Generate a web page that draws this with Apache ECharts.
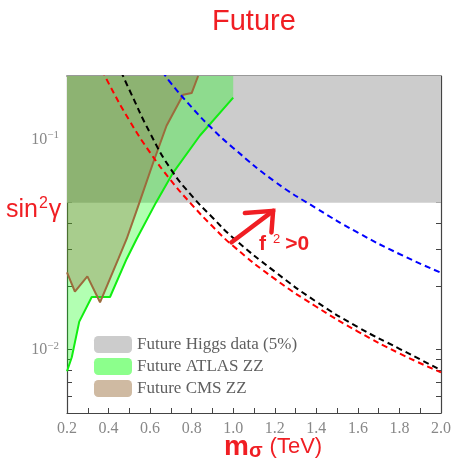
<!DOCTYPE html>
<html>
<head>
<meta charset="utf-8">
<script src="https://cdn.jsdelivr.net/npm/echarts@6/dist/echarts.min.js"></script>
<style>
  html, body { margin: 0; padding: 0; background: #fff; }
  #chart { width: 455px; height: 474px; }
</style>
</head>
<body>
<div id="chart"></div>
<script>
// excluded regions (boundaries)
const higgsX = [0.2, 2.0]
const higgsY = [0.05, 0.05]
const atlasX = [0.2, 0.223, 0.259, 0.319, 0.407, 0.487, 0.535, 0.628, 0.711, 0.839, 1.0]
const atlasY = [0.0079, 0.0092, 0.0136, 0.0178, 0.0178, 0.027, 0.0336, 0.05, 0.0695, 0.104, 0.158]
const cmsX = [0.2, 0.238, 0.298, 0.359, 0.447, 0.487, 0.543, 0.615, 0.679, 0.759, 0.80, 0.831]
const cmsY = [0.0233, 0.0189, 0.0223, 0.0168, 0.027, 0.0336, 0.0483, 0.0776, 0.116, 0.163, 0.166, 0.2]

// dashed curves
const redX = [0.37, 0.4, 0.5, 0.6, 0.7, 0.8, 0.9, 1.0, 1.2, 1.4, 1.6, 1.8, 2.0]
const redY = [0.214, 0.185, 0.123, 0.0865, 0.0638, 0.049, 0.0386, 0.0311, 0.0217, 0.016, 0.0122, 0.0096, 0.0078]
const blackX = [0.46, 0.5, 0.6, 0.7, 0.8, 0.9, 1.0, 1.2, 1.4, 1.6, 1.8, 2.0]
const blackY = [0.21, 0.172, 0.107, 0.072, 0.054, 0.0425, 0.034, 0.0235, 0.0169, 0.0128, 0.0101, 0.0080]
const blueX = [0.66, 0.7, 0.8, 0.9, 1.0, 1.2, 1.4, 1.6, 1.8, 2.0]
const blueY = [0.21, 0.185, 0.142, 0.112, 0.091, 0.063, 0.047, 0.036, 0.0285, 0.0232]

// arrow "f^2 > 0"
const arrowShaft = [[0.992, 0.0324], [1.192, 0.0457]]
const arrowHead = [[1.056, 0.0446], [1.192, 0.0457], [1.184, 0.0361]]

// axis ticks / labels
const yTickValues = [0.005, 0.006, 0.007, 0.008, 0.009, 0.01, 0.02, 0.03, 0.04, 0.05, 0.06, 0.07, 0.08, 0.09, 0.1, 0.2]
const yLabelValues = [0.01, 0.1]
const yLabelText = { 0.01: '10{sup|−2}', 0.1: '10{sup|−1}' }

const zip = (xs, ys) => xs.map((x, i) => [x, ys[i]])

const chart = echarts.init(document.getElementById('chart'))
const red = '#f01e23'
const serif = 'Liberation Serif'
const sans = 'Liberation Sans'

const baseY = {
  type: 'log',
  logBase: 10,
  min: 0.005,
  max: 0.2,
  splitLine: { show: false },
  axisLine: { show: true, lineStyle: { color: '#444', width: 1.2 } },
  axisTick: { show: true, inside: true, length: 5, customValues: yTickValues, lineStyle: { color: '#444' } }
}
const baseX = {
  type: 'value',
  min: 0.2,
  max: 2.0,
  interval: 0.2,
  splitLine: { show: false },
  axisLine: { show: true, onZero: false, lineStyle: { color: '#444', width: 1.2 } },
  axisTick: { show: true, inside: true, length: 5, lineStyle: { color: '#444' } },
  minorTick: { show: true, splitNumber: 2, length: 5, lineStyle: { color: '#444' } }
}

chart.setOption({
  animation: false,
  grid: { left: 67, right: 14, top: 76, bottom: 61, containLabel: false },
  legend: {
    orient: 'vertical',
    left: 89,
    top: 331,
    itemWidth: 38,
    itemHeight: 17,
    itemGap: 5,
    icon: 'roundRect',
    textStyle: { fontFamily: serif, fontSize: 17, color: '#5f5f5f' },
    data: [
      { name: 'Future Higgs data (5%)', itemStyle: { color: '#cccccc', borderWidth: 0 } },
      { name: 'Future ATLAS ZZ', itemStyle: { color: '#8cff8c', borderWidth: 0 } },
      { name: 'Future CMS ZZ', itemStyle: { color: '#cfbaa2', borderWidth: 0 } }
    ]
  },
  xAxis: [
    Object.assign({}, baseX, {
      position: 'bottom',
      axisLabel: {
        margin: 8,
        fontFamily: serif, fontSize: 16, color: '#888',
        formatter: v => v.toFixed(1)
      }
    }),
    Object.assign({}, baseX, {
      position: 'top',
      axisLine: { show: true, onZero: false, lineStyle: { color: '#999', width: 2 } },
      axisLabel: { show: false }
    })
  ],
  yAxis: [
    Object.assign({}, baseY, {
      position: 'left',
      axisLabel: {
        customValues: yLabelValues,
        margin: 8,
        fontFamily: serif, fontSize: 16, color: '#888',
        formatter: v => yLabelText[+v.toPrecision(3)] || '',
        rich: { sup: { fontFamily: serif, fontSize: 11, color: '#888', padding: [0, 0, 8, 0] } }
      }
    }),
    Object.assign({}, baseY, {
      position: 'right',
      axisLabel: { show: false }
    })
  ],
  graphic: [
    {
      type: 'text', left: 254 - 42, top: 7,
      style: { text: 'Future', fontFamily: sans, fontSize: 29, fill: red }
    },
    {
      type: 'text', left: 6, top: 196,
      style: {
        text: '{a|sin}{b|2}{a|γ}',
        rich: {
          a: { fontFamily: sans, fontSize: 25, fill: red },
          b: { fontFamily: sans, fontSize: 16, fill: red, padding: [0, 1, 12, 1] }
        }
      }
    },
    {
      type: 'text', left: 224, top: 433,
      style: {
        text: '{m|m}{s|σ}{t|(TeV)}',
        rich: {
          m: { fontFamily: sans, fontSize: 28, fontWeight: 'bold', fill: red },
          s: { fontFamily: sans, fontSize: 20, fontWeight: 'bold', fill: red, padding: [0, 0, -8, 0] },
          t: { fontFamily: sans, fontSize: 22, fill: red, padding: [0, 0, 0, 7] }
        }
      }
    },
    {
      type: 'text', left: 259, top: 233,
      style: {
        text: '{f|f}{s|2}{g|>0}',
        rich: {
          f: { fontFamily: sans, fontSize: 21, fontWeight: 'bold', fill: red },
          s: { fontFamily: sans, fontSize: 13, fill: red, padding: [0, 5, 10, 7] },
          g: { fontFamily: sans, fontSize: 21, fontWeight: 'bold', fill: red }
        }
      }
    }
  ],
  series: [
    {
      name: 'Future Higgs data (5%)',
      type: 'line',
      data: zip(higgsX, higgsY),
      symbol: 'none',
      lineStyle: { width: 0, opacity: 0 },
      itemStyle: { color: '#cccccc' },
      areaStyle: { origin: 'end', color: '#cccccc', opacity: 1 }
    },
    {
      name: 'Future ATLAS ZZ',
      type: 'line',
      data: zip(atlasX, atlasY),
      symbol: 'none',
      lineStyle: { color: '#11ee11', width: 2 },
      itemStyle: { color: '#8cff8c' },
      areaStyle: { origin: 'end', color: 'rgba(0,255,0,0.3)', opacity: 1 }
    },
    {
      name: 'Future CMS ZZ',
      type: 'line',
      data: zip(cmsX, cmsY),
      symbol: 'none',
      lineStyle: { color: '#9c6b3c', width: 2 },
      itemStyle: { color: '#cfbaa2' },
      areaStyle: { origin: 'end', color: 'rgba(143,83,47,0.29)', opacity: 1 }
    },
    {
      name: 'red', type: 'line', smooth: true, symbol: 'none',
      data: zip(redX, redY),
      lineStyle: { color: '#ff0000', width: 2, type: [6, 4] }
    },
    {
      name: 'black', type: 'line', smooth: true, symbol: 'none',
      data: zip(blackX, blackY),
      lineStyle: { color: '#000000', width: 2, type: [6, 4] }
    },
    {
      name: 'blue', type: 'line', smooth: true, symbol: 'none',
      data: zip(blueX, blueY),
      lineStyle: { color: '#0000ff', width: 2, type: [6, 4] }
    },
    {
      name: 'arrowShaft', type: 'line', symbol: 'none',
      data: arrowShaft,
      lineStyle: { color: red, width: 4.5, cap: 'round' }
    },
    {
      name: 'arrowHead', type: 'line', symbol: 'none',
      data: arrowHead,
      lineStyle: { color: red, width: 4.5, cap: 'round', join: 'miter' }
    }
  ]
})
</script>
</body>
</html>
